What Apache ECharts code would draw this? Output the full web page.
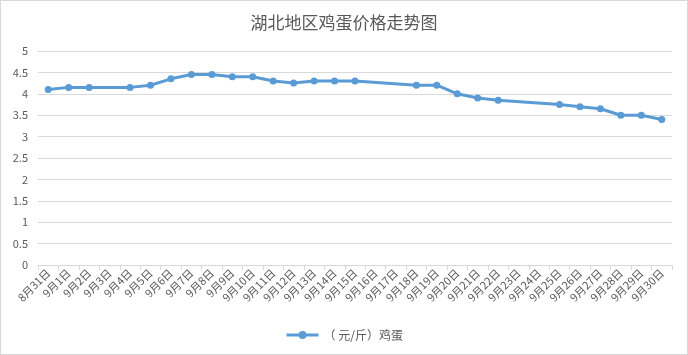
<!DOCTYPE html>
<html><head><meta charset="utf-8">
<script src="https://cdn.jsdelivr.net/npm/echarts@6/dist/echarts.min.js"></script>
<style>html,body{margin:0;padding:0;background:#fff}#c{width:686px;height:353px;border:1px solid #d9d9d9}</style>
</head><body><div id="c"></div>
<script>
const categories = ['8月31日','9月1日','9月2日','9月3日','9月4日','9月5日','9月6日','9月7日','9月8日','9月9日','9月10日','9月11日','9月12日','9月13日','9月14日','9月15日','9月16日','9月17日','9月18日','9月19日','9月20日','9月21日','9月22日','9月23日','9月24日','9月25日','9月26日','9月27日','9月28日','9月29日','9月30日'];
const eggPrice = [4.1,4.15,4.15,null,4.15,4.2,4.35,4.45,4.45,4.4,4.4,4.3,4.25,4.3,4.3,4.3,null,null,4.2,4.2,4.0,3.9,3.85,null,null,3.75,3.7,3.65,3.5,3.5,3.4];
const seriesName = '（ 元/斤）鸡蛋';
const chart = echarts.init(document.getElementById('c'));
const font = '"Microsoft YaHei","Noto Sans CJK SC",sans-serif';
chart.setOption({
  animation:false,
  title:{text:'湖北地区鸡蛋价格走势图',left:'center',top:8,textStyle:{fontFamily:font,fontSize:17,fontWeight:'normal',color:'#595959'}},
  grid:{left:37,right:15,top:50,bottom:89,containLabel:false},
  legend:{bottom:8,left:'center',itemWidth:32,itemHeight:10,itemGap:10,
    lineStyle:{width:3},
    textStyle:{fontFamily:font,fontSize:12,color:'#595959'},data:[seriesName]},
  xAxis:{type:'category',data:categories,boundaryGap:true,
    axisLine:{lineStyle:{color:'#d9d9d9'}},axisTick:{show:true,alignWithLabel:false,lineStyle:{color:'#d9d9d9'},length:5},
    axisLabel:{interval:0,rotate:45,fontFamily:font,fontSize:11,color:'#595959',margin:6}},
  yAxis:{type:'value',min:0,max:5,interval:0.5,
    axisLine:{show:false},axisTick:{show:false},
    splitLine:{lineStyle:{color:'#d9d9d9'}},
    axisLabel:{fontFamily:font,fontSize:11,color:'#595959',margin:10}},
  series:[{name:seriesName,type:'line',data:eggPrice,connectNulls:true,
    symbol:'circle',symbolSize:7,
    lineStyle:{width:3,color:'#5b9bd5'},itemStyle:{color:'#5b9bd5'}}]
});
</script></body></html>
